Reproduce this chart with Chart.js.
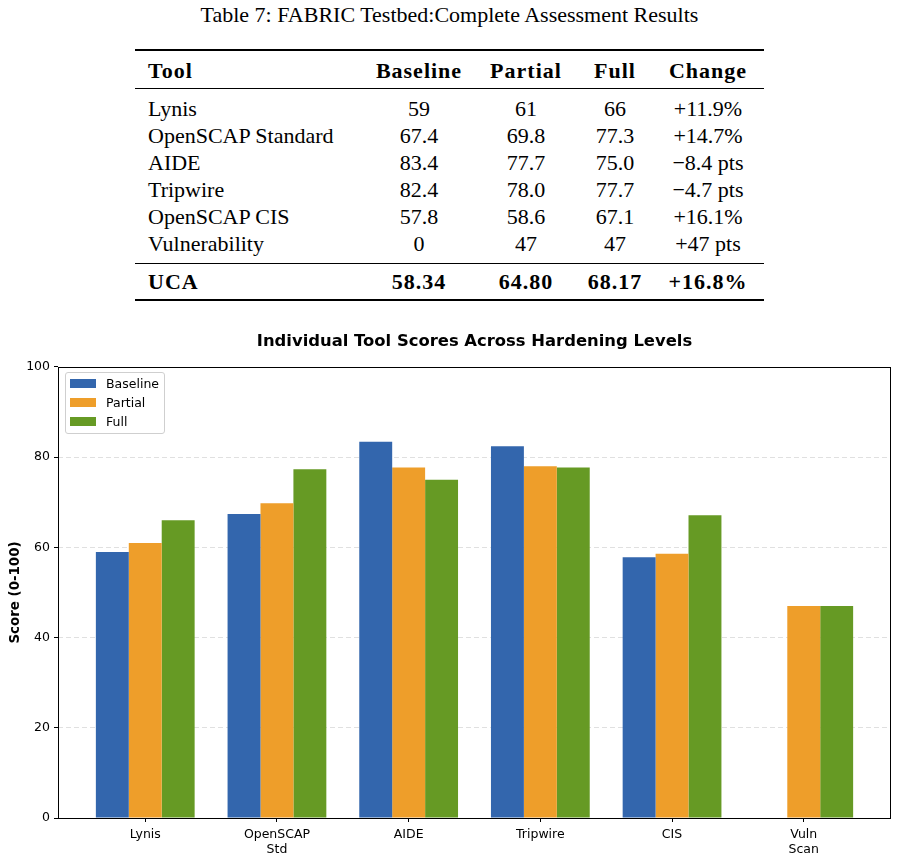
<!DOCTYPE html>
<html>
<head>
<meta charset="utf-8">
<script src="https://cdn.jsdelivr.net/npm/chart.js@4/dist/chart.umd.min.js"></script>
<style>
  html, body { margin: 0; padding: 0; background: #fff; }
  body { width: 899px; height: 859px; position: relative; overflow: hidden; }
  #caption { position: absolute; left: 0; width: 899px; top: 2px; text-align: center;
    font-family: "Liberation Serif", serif; font-size: 22px; line-height: 26px; color: #000; }
  #tbl { position: absolute; left: 135px; top: 0; width: 629px; height: 310px;
    font-family: "Liberation Serif", serif; font-size: 22px; color: #000; }
  .rule { position: absolute; left: 0; width: 629px; background: #000; }
  .row { position: absolute; left: 0; width: 629px; height: 27px; line-height: 27px; white-space: nowrap; }
  .cell { position: absolute; top: 0; width: 140px; text-align: center; }
  .tool { position: absolute; top: 0; left: 13px; text-align: left; }
  .bold { font-weight: bold; letter-spacing: 1px; }
  #chartWrap { position: absolute; left: 0; top: 320px; width: 899px; height: 539px; }
  #legend { position: absolute; left: 65px; top: 372px; width: 98px; height: 60px;
    border: 1px solid #cfcfcf; border-radius: 3px; background: rgba(255,255,255,0.85);
    font-family: "DejaVu Sans", sans-serif; font-size: 12.5px; color: #000; }
  .lg { position: absolute; left: 0; height: 19px; line-height: 19px; }
  .sw { position: absolute; left: 4px; top: 5px; width: 26px; height: 9px; }
  .lt { position: absolute; left: 40px; top: 0; }
</style>
</head>
<body>
<div id="caption">Table 7: FABRIC Testbed:Complete Assessment Results</div>
<div id="tbl"></div>
<div id="chartWrap"><canvas id="c"></canvas></div>
<div id="legend"></div>
<script>
// ---- Data ----
const tableTools = ["Lynis", "OpenSCAP Standard", "AIDE", "Tripwire", "OpenSCAP CIS", "Vulnerability"];
const chartLabels = [["Lynis"], ["OpenSCAP", "Std"], ["AIDE"], ["Tripwire"], ["CIS"], ["Vuln", "Scan"]];
const baseline = [59, 67.4, 83.4, 82.4, 57.8, 0];
const partial  = [61, 69.8, 77.7, 78.0, 58.6, 47];
const full     = [66, 77.3, 75.0, 77.7, 67.1, 47];
const tableBaseline = ["59", "67.4", "83.4", "82.4", "57.8", "0"];
const tablePartial  = ["61", "69.8", "77.7", "78.0", "58.6", "47"];
const tableFull     = ["66", "77.3", "75.0", "77.7", "67.1", "47"];
const change = ["+11.9%", "+14.7%", "\u22128.4 pts", "\u22124.7 pts", "+16.1%", "+47 pts"];
const headers = ["Tool", "Baseline", "Partial", "Full", "Change"];
const ucaRow = ["UCA", "58.34", "64.80", "68.17", "+16.8%"];
const seriesNames = ["Baseline", "Partial", "Full"];
const seriesColors = ["#3366ad", "#ee9e2a", "#669a24"];
const yTicks = [0, 20, 40, 60, 80, 100];

// ---- Table ----
const tbl = document.getElementById('tbl');
const colCenters = [284, 391, 480, 573]; // relative to table left
function addRule(top, h) {
  const d = document.createElement('div'); d.className = 'rule';
  d.style.top = top + 'px'; d.style.height = h + 'px'; tbl.appendChild(d);
}
function addRow(center, vals, bold) {
  const r = document.createElement('div'); r.className = 'row' + (bold ? ' bold' : '');
  r.style.top = (center - 13.5) + 'px';
  const t = document.createElement('span'); t.className = 'tool'; t.textContent = vals[0]; r.appendChild(t);
  for (let i = 1; i < vals.length; i++) {
    const c = document.createElement('span'); c.className = 'cell';
    c.style.left = (colCenters[i - 1] - 70) + 'px'; c.textContent = vals[i]; r.appendChild(c);
  }
  tbl.appendChild(r);
}
addRule(49, 2);
addRow(70, headers, true);
addRule(88, 1);
tableTools.forEach((t, i) => addRow(108 + 27 * i, [t, tableBaseline[i], tablePartial[i], tableFull[i], change[i]], false));
addRule(263, 1);
addRow(281, ucaRow, true);
addRule(299, 2);

// ---- Legend ----
const lg = document.getElementById('legend');
seriesNames.forEach((n, i) => {
  const it = document.createElement('div'); it.className = 'lg'; it.style.top = (1 + 19 * i) + 'px';
  it.innerHTML = '<div class="sw" style="background:' + seriesColors[i] + '"></div><div class="lt">' + n + '</div>';
  lg.appendChild(it);
});

// ---- Chart ----
Chart.defaults.font.family = "'DejaVu Sans', sans-serif";
Chart.defaults.color = '#000';
const series = [baseline, partial, full];
const frame = {
  id: 'frame',
  afterDraw(chart) {
    const a = chart.chartArea, ctx = chart.ctx;
    ctx.save(); ctx.strokeStyle = '#000'; ctx.lineWidth = 1;
    ctx.strokeRect(Math.round(a.left) + 0.5, Math.round(a.top) + 0.5, Math.round(a.right - a.left) - 1, Math.round(a.bottom - a.top));
    ctx.restore();
  }
};
new Chart(document.getElementById('c'), {
  type: 'bar',
  data: {
    datasets: series.map((s, k) => ({
      label: seriesNames[k],
      data: s.map((v, i) => ({ x: i, y: v })),
      backgroundColor: seriesColors[k],
      borderWidth: 0,
      categoryPercentage: 0.75,
      barPercentage: 1.0
    }))
  },
  options: {
    responsive: true, maintainAspectRatio: false, animation: false,
    layout: { padding: { left: 0, right: 8, top: 0, bottom: 0 } },
    plugins: {
      legend: { display: false },
      tooltip: { enabled: false },
      title: {
        display: true, fullSize: false,
        text: 'Individual Tool Scores Across Hardening Levels',
        font: { size: 16.4, weight: 'bold' }, color: '#000',
        padding: { top: 12, bottom: 15.3 }
      }
    },
    scales: {
      x: {
        type: 'linear', min: -0.6625, max: 5.6625, offset: false,
        afterBuildTicks: s => { s.ticks = chartLabels.map((l, i) => ({ value: i })); },
        afterFit: s => { s.height = 41; },
        ticks: { callback: (v) => chartLabels[v], font: { size: 12.5 }, color: '#000', padding: 5, maxRotation: 0, autoSkip: false },
        grid: { drawOnChartArea: false, tickLength: 4, tickColor: '#000', offset: false },
        border: { display: false }
      },
      y: {
        min: 0, max: 100,
        afterBuildTicks: s => { s.ticks = yTicks.map(v => ({ value: v })); },
        afterFit: s => { s.width = 58; },
        ticks: { font: { size: 12.5 }, color: '#000', padding: 4 },
        grid: {
          color: ctx => (ctx.tick && ctx.tick.value > 0 && ctx.tick.value < 100) ? 'rgba(0,0,0,0.12)' : 'rgba(0,0,0,0)',
          tickColor: '#000', tickLength: 4, lineWidth: 1
        },
        border: { display: false, dash: [5, 3] },
        title: { display: true, text: 'Score (0-100)', font: { size: 13.4, weight: 'bold' }, color: '#000', padding: { top: 7, bottom: 2 } }
      }
    }
  },
  plugins: [frame]
});
</script>
</body>
</html>
